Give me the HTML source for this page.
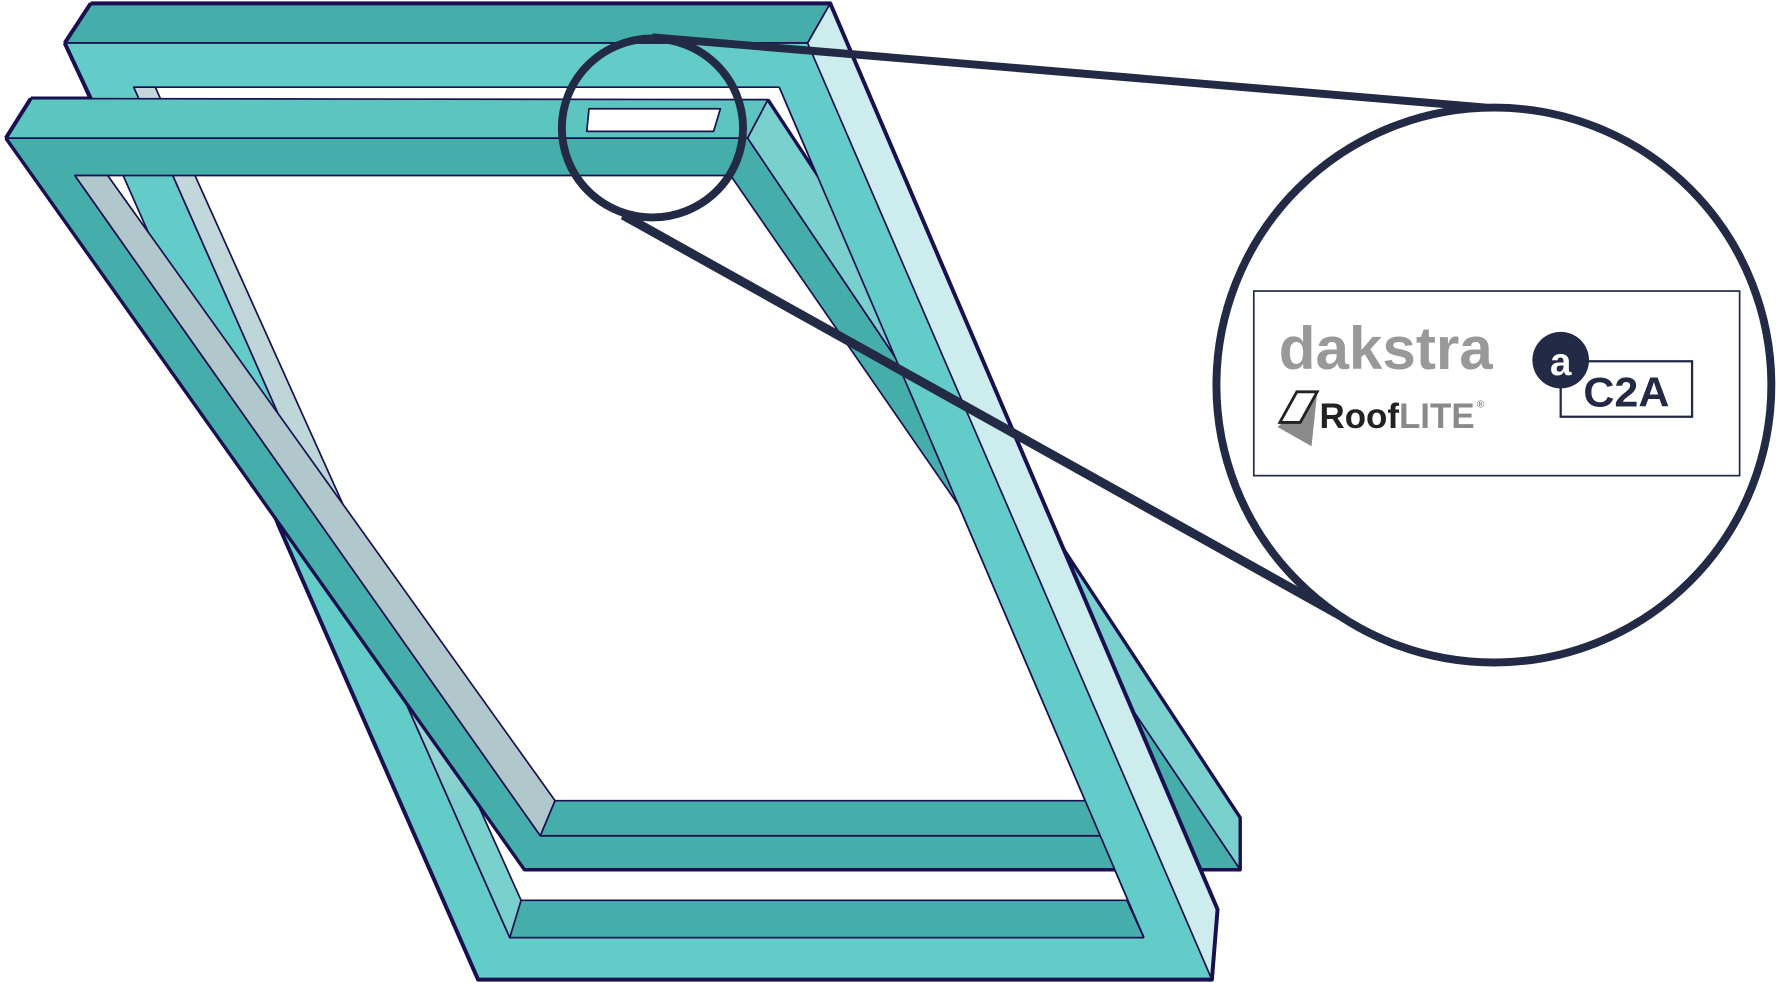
<!DOCTYPE html>
<html><head><meta charset="utf-8"><style>html,body{margin:0;padding:0;background:#fff}svg{display:block}</style></head>
<body>
<svg width="1776" height="983" viewBox="0 0 1568 868" xmlns="http://www.w3.org/2000/svg" font-family="Liberation Sans, sans-serif">
<defs>
<linearGradient id="g1" gradientUnits="userSpaceOnUse" x1="0" y1="77" x2="0" y2="828">
<stop offset="0" stop-color="#c4d8db"/><stop offset="0.7" stop-color="#b8d4d6"/><stop offset="0.85" stop-color="#7ad0cd"/><stop offset="1" stop-color="#7ad0cd"/>
</linearGradient>
</defs>
<g stroke="#1a1050" stroke-width="1.5" stroke-linejoin="round">
<!-- back frame -->
<polygon points="80,3 733,3 713,38 57,38" fill="#46aeaa"/>
<path d="M57,38 L713,38 L1070,865 L422,865 Z M118,77 L450,828 L1010,828 L688,77 Z" fill="#64ccc8" fill-rule="evenodd"/>
<polygon points="450,795 995,795 1010,828 450,828" fill="#46aeaa"/>
<polygon points="118,77 137,77 460,795 450,828" fill="url(#g1)"/>
<polyline points="57,38 80,87 27,87" fill="none" stroke-width="3.5"/>
<!-- front sash -->
<polygon points="27,87 678,88 660,122 5,122" fill="#5cc5c0"/>
<polygon points="678,88 1095,722 1095,768 660,122" fill="#7ad0cd"/>
<path d="M5,122 L660,122 L1095,768 L463,768 Z M66,155 L477,738 L1048,738 L645,155 Z" fill="#46aeaa" fill-rule="evenodd"/>
<polygon points="66,155 95,155 490,707 477,738" fill="#b0c8cc"/>
<polygon points="490,707 1027,707 1048,738 477,738" fill="#46aeaa"/>
<polygon points="520,96 636,96 630,116 518,116" fill="#fff"/>
<polyline points="5,122 463,768 1095,768 1095,722 678,88" fill="none" stroke-width="3"/>
<polyline points="5,122 27,87" fill="none" stroke-width="3.5"/>
<!-- back frame right member on top -->
<polygon points="688,77 713,38 1070,865 1010,865 1010,828" fill="#64ccc8" stroke="none"/>
<line x1="688" y1="77" x2="1010" y2="828"/>
<line x1="995" y1="795" x2="1010" y2="828"/>
<line x1="450" y1="828" x2="1010" y2="828"/>
<polygon points="713,38 733,3 1063,775 1075,803 1070,865" fill="#cdeced"/>
<polyline points="80,3 733,3 1063,775 1075,803 1070,865 422,865 245,462" fill="none" stroke-width="3.5"/>
<polyline points="80,3 57,38" fill="none" stroke-width="3.5"/>
</g>
<!-- magnifier -->
<g stroke="#232a45" fill="none">
<line x1="576" y1="33" x2="1312" y2="95" stroke-width="7"/>
<line x1="550" y1="190" x2="1195" y2="550" stroke-width="8"/>
<ellipse cx="576" cy="113" rx="80" ry="79" stroke-width="7"/>
<circle cx="1319" cy="340" r="245" fill="#fff" stroke-width="7"/>
</g>
<rect x="1107" y="257" width="429" height="163" fill="#fff" stroke="#232a45" stroke-width="1.5"/>
<text x="1129" y="326" font-size="53" font-weight="bold" fill="#999" textLength="189" lengthAdjust="spacingAndGlyphs">dakstra</text>
<polygon points="1128,377 1163,346 1158,394" fill="#8a8a8a"/>
<polygon points="1145,346 1163,346 1148,373 1130,373" fill="#fff" stroke="#222" stroke-width="2.5"/>
<text x="1165" y="378" font-size="31" font-weight="bold" textLength="137" lengthAdjust="spacingAndGlyphs"><tspan fill="#222">Roof</tspan><tspan fill="#8a8a8a">LITE</tspan></text>
<text x="1304" y="360" font-size="9" fill="#666">®</text>
<rect x="1378" y="319" width="116" height="49" fill="#fff" stroke="#232a45" stroke-width="2"/>
<circle cx="1378" cy="318" r="25" fill="#232a45"/>
<text x="1378" y="331" font-size="34" font-weight="bold" fill="#fff" text-anchor="middle">a</text>
<text x="1398" y="359" font-size="37" font-weight="bold" fill="#232a45" textLength="76" lengthAdjust="spacingAndGlyphs">C2A</text>
</svg>
</body></html>
